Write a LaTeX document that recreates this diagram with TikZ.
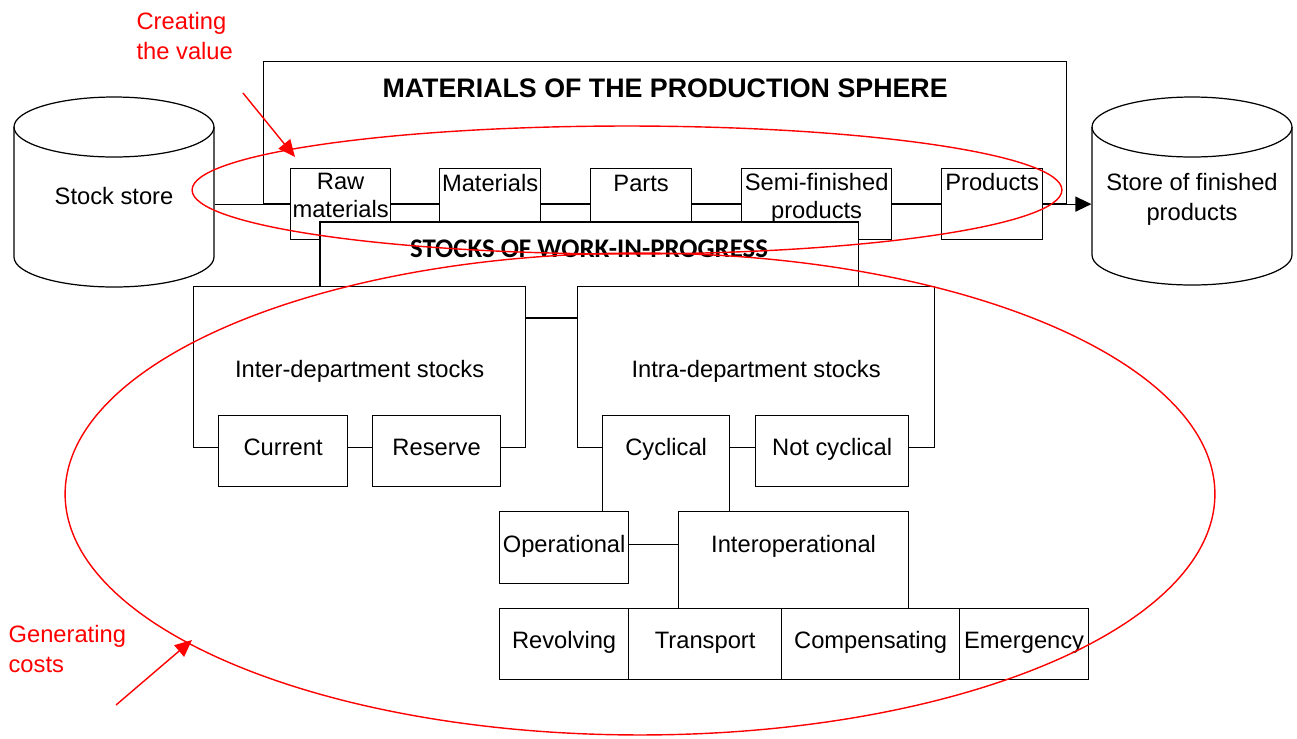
\documentclass[tikz,border=0pt]{standalone}
\usepackage{fontspec}
\setmainfont{Liberation Sans}
\newfontfamily\wipfont{Carlito}
\usetikzlibrary{arrows.meta}
\tikzset{
  % outlined box, placed by its top left corner
  box/.style={draw=black, fill=white, inner sep=0pt, anchor=north west},
  % size of a box, in pixels of the sketch
  sz/.style 2 args={minimum width=#1*0.02cm, minimum height=#2*0.02cm},
  % text of the boxes
  txt/.style={font=\fontsize{13.5}{15.5}\selectfont, inner sep=0pt, align=center},
  % one line of text, its baseline #2 below the top edge
  oneline/.style 2 args={label={[txt, anchor=base, yshift=-#2]north:#1}},
  % two lines of text, their top #2 below the top edge
  twolines/.style 2 args={label={[txt, anchor=north, yshift=-#2]north:#1}},
  % red marks
  hint/.style={red, line width=0.8pt},
}

\begin{document}
\begin{tikzpicture}[x=0.02cm, y=-0.02cm, line width=0.7pt]
\useasboundingbox (0,0) rectangle (1297,738);

% the two stores
\node[txt, minimum width=4cm] (stock) at (114,196) {Stock store};
\draw (114,127) ellipse[x radius=2cm, y radius=0.6cm];
\draw (14,127) -- (14,257) arc[start angle=180, end angle=360, x radius=2cm, y radius=0.6cm] -- (214,127);
\node[txt, minimum width=4cm, anchor=north, font=\fontsize{13.5}{17}\selectfont] (store) at (1192,173) {Store of finished\\products};
\draw (1192,127) ellipse[x radius=2cm, y radius=0.6cm];
\draw (1092,127) -- (1092,255) arc[start angle=180, end angle=360, x radius=2cm, y radius=0.6cm] -- (1292,127);

% production sphere
\node[box, sz={803}{142}, label={[font=\fontsize{15.25}{18}\selectfont\bfseries, inner sep=0pt, anchor=base, yshift=-0.72cm]north:MATERIALS OF THE PRODUCTION SPHERE}] (sphere) at (263,61) {};
\node[box, sz={100}{71}, twolines={Raw\\materials}{0.1cm}] (raw) at (290,168) {};
\node[box, sz={101}{71}, oneline={Materials}{0.46cm}] (mat) at (439,168) {};
\node[box, sz={101}{71}, oneline={Parts}{0.46cm}] (parts) at (590,168) {};
\node[box, sz={150}{71}, twolines={Semi-finished\\products}{0.1cm}] (semi) at (741,168) {};
\node[box, sz={101}{71}, oneline={Products}{0.44cm}] (prod) at (941,168) {};
\draw (stock.east |- raw.west) -- (raw.west) (raw.east) -- (mat.west) (mat.east) -- (parts.west)
  (parts.east) -- (semi.west) (semi.east) -- (prod.west);
\draw[-{Triangle[length=0.32cm, width=0.3cm]}] (prod.east) -- (store.west |- prod.east);

% work in progress, open at the bottom
\node[box, draw=none, sz={537}{64}, label={[font=\wipfont\bfseries\fontsize{15.3}{18}\selectfont, inner sep=0pt, anchor=base, yshift=-0.7cm]north:STOCKS OF WORK-IN-PROGRESS}] (wip) at (320,222) {};
\draw (wip.south west) |- (wip.north east) -- (wip.south east);
\node[box, sz={332}{161}, oneline={Inter-department stocks}{1.84cm}] (inter) at (193,286) {};
\node[box, sz={357}{161}, oneline={Intra-department stocks}{1.84cm}] (intra) at (577,286) {};
\draw ([yshift=-0.64cm]inter.north east) -- ([yshift=-0.64cm]intra.north west);
\node[box, sz={129}{71}, oneline={Current}{0.8cm}] (current) at (218,415) {};
\node[box, sz={128}{71}, oneline={Reserve}{0.8cm}] (reserve) at (372,415) {};
\node[box, sz={127}{129}, oneline={Cyclical}{0.8cm}] (cyc) at (602,415) {};
\node[box, sz={153}{71}, oneline={Not cyclical}{0.8cm}] (notcyc) at (755,415) {};
\node[box, sz={129}{72}, oneline={Operational}{0.82cm}] (oper) at (499,511) {};
\node[box, sz={230}{97}, oneline={Interoperational}{0.82cm}] (interop) at (678,511) {};
\node[box, sz={129}{71}, oneline={Revolving}{0.8cm}] (rev) at (499,608) {};
\node[box, sz={153}{71}, oneline={Transport}{0.8cm}] (trans) at (628,608) {};
\node[box, sz={178}{71}, oneline={Compensating}{0.8cm}] (comp) at (781,608) {};
\node[box, sz={129}{71}, oneline={Emergency}{0.8cm}] (emerg) at (959,608) {};

% value and costs
\draw[hint] (627,190) ellipse[x radius=8.7cm, y radius=1.28cm];
\draw[hint] (640,494) ellipse[x radius=11.5cm, y radius=4.82cm];
\node[txt, red, align=left, anchor=north west, font=\fontsize{13.5}{17}\selectfont] (value) at (136,12) {Creating\\the value};
\node[txt, red, align=left, anchor=north west, font=\fontsize{13.5}{17}\selectfont] (costs) at (8,625) {Generating\\costs};
\coordinate (valuetail) at (243,93);
\coordinate (valuetip) at (295,157);
\coordinate (coststail) at (116,705);
\coordinate (coststip) at (192,640);
\draw[hint, -{Triangle[length=0.34cm, width=0.3cm]}] (valuetail) -- (valuetip);
\draw[hint, -{Triangle[length=0.34cm, width=0.3cm]}] (coststail) -- (coststip);
\end{tikzpicture}
\end{document}
